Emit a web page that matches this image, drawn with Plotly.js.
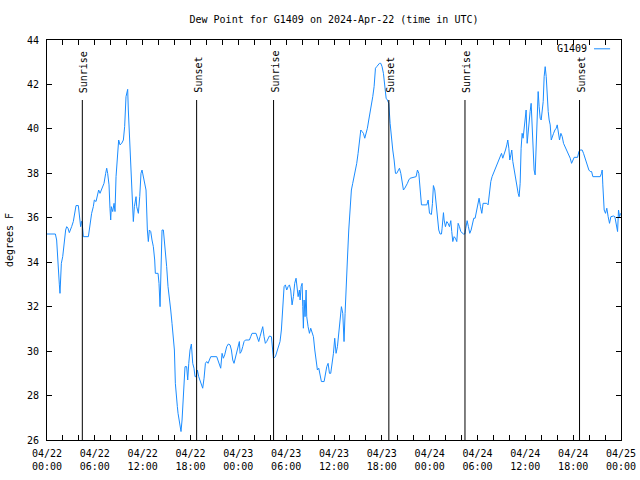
<!DOCTYPE html>
<html>
<head>
<meta charset="utf-8">
<script src="https://cdn.plot.ly/plotly-3.0.1.min.js"></script>
<style>html,body{margin:0;padding:0;background:#fff;}#chart{width:640px;height:480px;}</style>
</head>
<body>
<div id="chart"></div>
<script>
// Hours since 2024-04-22 00:00 UTC
const hours = [
0.00,1.05,1.21,1.38,1.55,1.63,1.71,1.80,1.97,2.05,2.22,2.34,2.47,2.63,2.80,2.89,3.09,3.30,3.47,3.64,3.93,4.01,4.14,4.22,4.31,4.39,4.47,4.56,5.19,5.31,5.40,5.60,5.81,5.94,6.15,6.32,6.48,6.65,6.82,6.98,7.15,7.36,7.49,7.61,7.78,7.90,7.99,8.07,8.24,8.41,8.53,8.66,8.87,8.99,9.16,9.37,9.58,9.74,9.91,10.04,10.12,10.20,10.33,10.50,10.62,10.75,10.83,10.96,11.08,11.17,11.25,11.46,11.63,11.79,11.92,12.09,12.25,12.42,12.59,12.71,12.84,13.01,13.17,13.34,13.51,13.59,13.93,14.05,14.18,14.26,14.43,14.60,14.68,14.85,15.01,15.18,15.35,15.52,15.68,15.85,15.98,16.10,16.23,16.35,16.44,16.60,16.69,16.81,16.94,17.06,17.19,17.31,17.52,17.65,17.78,17.94,18.11,18.19,18.28,18.44,18.57,18.70,18.86,19.03,19.20,19.36,19.53,19.70,19.87,20.03,20.20,20.37,20.54,21.29,21.46,21.62,21.79,21.96,22.12,22.29,22.54,22.75,22.96,23.13,23.30,23.46,23.63,23.80,23.96,24.13,
24.22,24.38,24.55,24.72,24.89,25.39,25.55,25.72,26.22,26.39,26.56,26.72,26.89,27.06,27.23,27.39,27.56,27.73,27.90,28.15,28.27,28.40,28.65,28.82,28.98,29.23,29.40,29.57,29.74,29.90,30.07,30.24,30.41,30.57,30.74,30.91,31.07,31.24,31.33,31.50,31.66,31.75,31.87,32.00,32.08,32.16,32.25,32.37,32.50,32.58,32.75,32.92,33.08,33.25,33.42,33.59,33.75,33.92,34.09,34.25,34.42,34.76,34.92,35.09,35.26,35.43,35.59,35.76,35.93,36.09,36.26,36.43,36.60,36.76,36.93,37.10,37.26,37.39,37.51,37.68,37.85,38.02,38.18,38.35,38.52,38.69,38.85,39.02,39.19,39.36,39.52,39.69,39.86,40.02,40.19,40.36,40.53,40.69,40.86,41.03,41.20,41.36,41.53,41.70,41.87,42.03,42.20,42.37,42.54,42.70,42.87,43.04,43.20,43.37,43.54,43.71,43.87,44.04,44.21,44.38,44.54,44.71,44.88,45.04,45.21,45.38,45.55,46.30,46.47,46.64,46.80,46.97,47.64,47.81,47.98,
48.22,48.35,48.47,48.64,48.81,48.97,49.14,49.31,49.48,49.56,49.73,49.81,49.98,50.15,50.31,50.48,50.65,50.77,50.90,51.07,51.23,51.40,51.57,51.74,51.90,52.24,52.41,52.53,52.70,52.86,53.03,53.20,53.37,53.53,53.70,53.87,54.04,54.20,54.37,54.54,54.70,55.16,55.33,55.50,55.67,55.83,56.00,56.17,56.34,56.50,56.67,56.84,57.01,57.17,57.34,57.51,57.68,57.80,57.93,58.05,58.18,58.30,58.43,58.60,58.76,58.93,59.10,59.22,59.35,59.47,59.60,59.72,59.85,59.97,60.10,60.23,60.35,60.48,60.60,60.73,60.85,60.98,61.10,61.23,61.36,61.48,61.61,61.73,61.86,61.99,62.11,62.24,62.36,62.49,62.62,62.74,62.87,62.99,63.12,63.25,63.37,63.54,63.71,63.87,64.00,64.12,64.29,64.46,64.63,64.79,64.96,65.13,65.30,65.46,65.63,65.80,65.96,66.13,66.55,66.72,66.88,67.13,67.30,67.47,67.64,67.80,67.97,68.14,68.31,68.47,69.39,69.55,69.64,69.72,69.80,69.89,70.06,70.22,70.39,70.56,70.73,71.06,71.23,71.40,71.57,71.69,71.82,71.95
];
// Dew point, degrees F
const dewF = [
35.27,35.27,35.00,33.68,32.98,32.60,33.28,33.95,34.25,34.55,35.00,35.45,35.60,35.53,35.33,35.45,35.60,35.83,36.13,36.55,36.55,36.28,35.83,35.60,35.83,35.83,35.53,35.15,35.15,35.45,35.90,36.20,36.50,36.80,36.73,37.10,37.25,37.10,37.25,37.40,37.55,38.00,38.23,38.00,37.48,36.43,35.90,36.50,36.28,36.65,36.28,37.85,38.75,39.50,39.28,39.35,39.50,40.10,41.45,41.75,41.78,40.85,39.95,38.68,37.70,36.80,35.83,36.50,36.80,36.95,36.50,36.20,36.95,38.00,38.15,37.78,37.55,37.25,35.45,34.93,35.45,35.38,35.00,34.70,34.10,33.50,33.50,33.05,32.00,33.05,35.45,35.45,35.15,34.70,33.80,32.90,32.45,31.85,31.25,30.65,30.05,28.55,27.73,27.50,27.20,26.90,26.60,26.38,26.90,27.65,28.70,29.30,29.30,28.70,29.45,30.05,30.32,29.90,29.45,29.23,28.85,28.85,29.15,28.85,28.63,28.48,28.33,28.78,29.45,29.53,29.45,29.60,29.75,29.75,29.60,29.45,29.23,29.90,29.68,29.83,30.20,30.32,30.28,30.05,29.60,29.45,29.68,29.98,30.20,30.43,
29.90,29.98,30.20,30.43,30.50,30.50,30.65,30.80,30.80,30.65,30.43,30.65,30.88,31.10,30.65,30.35,30.43,30.58,30.68,30.65,29.98,29.68,29.75,29.98,30.20,30.43,30.95,32.00,32.90,32.98,32.75,32.90,32.98,32.75,32.08,32.45,33.05,33.28,32.90,32.45,32.75,32.30,32.90,33.05,32.00,31.03,32.30,31.55,32.75,31.55,31.10,30.80,31.03,30.88,30.65,30.05,29.60,29.15,29.23,29.00,28.63,28.63,29.00,29.30,29.45,29.00,29.00,29.45,29.90,30.58,29.90,30.20,30.95,31.25,32.00,31.70,30.43,31.70,33.05,34.10,35.45,36.65,37.25,37.55,37.85,38.15,38.45,38.90,39.50,39.95,39.88,39.80,39.58,39.80,40.03,40.40,40.70,41.00,41.45,41.90,42.73,42.80,42.88,42.95,42.95,42.80,42.50,41.83,41.38,41.30,41.15,40.25,39.50,39.05,38.60,38.00,38.00,38.15,38.23,38.00,37.55,37.25,37.33,37.48,37.55,37.70,37.78,37.85,38.15,38.00,37.40,36.58,36.58,36.80,36.20,
36.15,36.65,37.45,37.25,36.50,36.05,35.45,35.27,35.27,35.53,36.23,35.90,35.60,35.83,35.75,35.60,35.87,35.38,34.93,35.15,35.08,34.93,35.75,35.60,35.38,35.27,35.27,35.53,35.87,35.60,35.30,35.45,35.75,35.98,35.98,36.35,36.65,36.88,36.50,36.20,36.65,36.65,36.58,37.25,37.63,37.85,38.00,38.15,38.30,38.53,38.60,38.75,38.90,38.68,38.83,39.05,39.28,39.50,39.13,38.60,38.83,39.05,38.53,38.15,37.70,37.40,37.10,36.95,37.55,39.13,39.80,39.58,39.95,40.40,40.85,39.35,39.95,40.40,40.78,41.15,39.95,38.90,38.15,37.93,39.20,40.25,41.68,41.00,40.48,40.40,40.70,41.23,42.35,42.80,42.35,41.30,40.78,40.40,40.18,39.50,39.65,39.80,39.95,40.03,40.18,39.80,39.50,39.80,39.65,39.35,39.20,39.13,38.98,38.83,38.68,38.45,38.60,38.72,38.72,38.98,39.05,39.05,38.90,38.68,38.45,38.30,38.15,38.08,38.08,37.85,37.85,38.00,38.15,37.48,36.95,36.35,36.20,36.43,36.05,35.75,36.05,36.08,36.05,35.60,35.38,36.35,36.05,36.20
];
const seriesName = 'G1409';
const sunHours = [4.43, 18.77, 28.42, 42.88, 52.43, 66.80];
const sunLabels = ['Sunrise','Sunset','Sunrise','Sunset','Sunrise','Sunset'];
const tickHours = [];
for (let h = 0; h <= 72; h += 2) tickHours.push(h);
const tickDays = ['04/22','04/22','04/22','04/22','04/23','04/23','04/23','04/23','04/24','04/24','04/24','04/24','04/25'];
const tickClock = ['00:00','06:00','12:00','18:00'];
const yTicks = [26,28,30,32,34,36,38,40,42,44];
const sunLineTop = 41.3;

const base = Date.UTC(2024, 3, 22, 0, 0, 0);
const toMs = h => base + h * 3600000;

const tickText = tickHours.map(h => h % 6 === 0 ? tickDays[h/6] + '<br>' + tickClock[(h/6) % 4] : '');

const FONT = 'DejaVu Sans Mono, monospace';

const trace = {
  x: hours.map(toMs), y: dewF, type: 'scatter', mode: 'lines',
  name: seriesName, line: {color: '#1a8cff', width: 1}, showlegend: false
};

const shapes = sunHours.map(h => ({
  type: 'line', xref: 'x', yref: 'y', x0: toMs(h), x1: toMs(h), y0: 26, y1: sunLineTop,
  line: {color: '#000', width: 1}
}));
shapes.push({type:'line', xref:'paper', yref:'paper', x0:0.953, x1:0.981, y0:0.978, y1:0.978, line:{color:'#1a8cff', width:1}});

const annotations = sunHours.map((h, i) => ({
  x: toMs(h), y: sunLineTop, xref: 'x', yref: 'y', text: sunLabels[i], textangle: -90,
  showarrow: false, xanchor: 'center', yanchor: 'bottom', yshift: 5, xshift: 1,
  font: {family: FONT, size: 10, color: '#000'}
}));
annotations.push({x: 0.944, y: 0.978, xref: 'paper', yref: 'paper', text: seriesName, showarrow: false,
  xanchor: 'right', yanchor: 'middle', font: {family: FONT, size: 10, color: '#000'}});

const layout = {
  width: 640, height: 480,
  margin: {l: 47, r: 19, t: 40, b: 40},
  paper_bgcolor: '#fff', plot_bgcolor: '#fff',
  font: {family: FONT, size: 10, color: '#000'},
  title: {text: 'Dew Point for G1409 on 2024-Apr-22 (time in UTC)', x: 0.5, xref: 'paper', y: 0.96, yref: 'container', yanchor: 'middle',
    font: {family: FONT, size: 10, color: '#000'}},
  xaxis: {
    type: 'date', range: [toMs(0), toMs(72)], tickmode: 'array',
    tickvals: tickHours.map(toMs), ticktext: tickText,
    ticks: 'inside', ticklen: 5, tickcolor: '#000', showgrid: false, zeroline: false,
    showline: true, linecolor: '#000', linewidth: 1, mirror: 'ticks',
    tickfont: {family: FONT, size: 10, color: '#000'}, ticklabelstandoff: 4
  },
  yaxis: {
    range: [26, 44], tickmode: 'array', tickvals: yTicks, ticktext: yTicks.map(String),
    ticks: 'inside', ticklen: 5, tickcolor: '#000', showgrid: false, zeroline: false,
    showline: true, linecolor: '#000', linewidth: 1, mirror: 'ticks',
    tickfont: {family: FONT, size: 10, color: '#000'}, ticklabelstandoff: 5,
    title: {text: 'degrees F', font: {family: FONT, size: 10, color: '#000'}, standoff: 11}
  },
  shapes: shapes, annotations: annotations, showlegend: false
};

Plotly.newPlot('chart', [trace], layout, {staticPlot: true, displayModeBar: false});
</script>
</body>
</html>
